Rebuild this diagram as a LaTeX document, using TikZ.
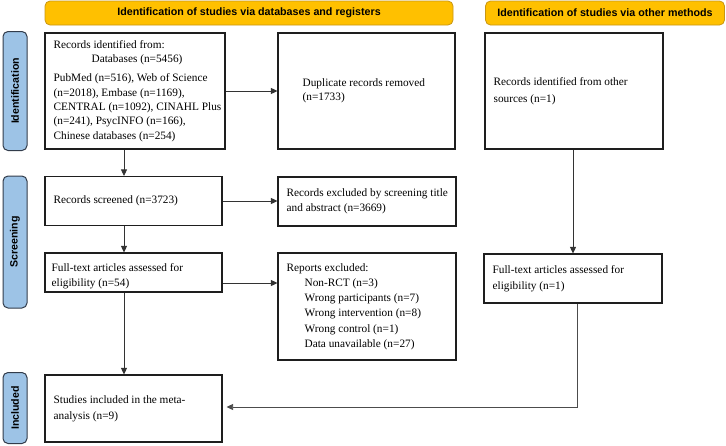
\documentclass[tikz,border=0pt]{standalone}
\usepackage{fontspec}
\setmainfont{Liberation Serif}
\newfontfamily\hdfont{Liberation Sans}
\usetikzlibrary{arrows.meta,calc}
\definecolor{hdfill}{RGB}{255,192,0}
\definecolor{hdline}{RGB}{200,150,20}
\definecolor{sbfill}{RGB}{157,195,230}
\definecolor{sbline}{RGB}{50,60,75}
\definecolor{boxline}{RGB}{30,30,30}
\begin{document}
\begin{tikzpicture}[x=1pt,y=-1pt,
  header/.style={draw=hdline,fill=hdfill,rounded corners=5pt,line width=0.8pt,
    font=\hdfont\bfseries\fontsize{10.7}{12}\selectfont,inner sep=0pt},
  sidebar/.style={draw=sbline,fill=sbfill,rounded corners=5pt,line width=1pt,inner sep=0pt},
  sbtext/.style={rotate=90,font=\hdfont\bfseries\fontsize{10.6}{12}\selectfont},
  flowbox/.style={draw=boxline,line width=1.1pt,inner sep=0pt},
  boxtext/.style={align=left,anchor=west,inner sep=0pt,
    font=\fontsize{11.3}{#1}\selectfont},
  boxtext/.default=14.3,
  arr/.style={draw=black!80,line width=0.8pt,-{Triangle[length=6.5pt,width=6pt]}},
  ln/.style={draw=black!70,line width=0.8pt}]
\useasboundingbox (0,0) rectangle (726,445);
% headers
\node[header,minimum width=408,minimum height=24] (h1) at (249,13) {Identification of studies via databases and registers};
\node[header,minimum width=239,minimum height=24] (h2) at (605,13) {Identification of studies via other methods};
% side bars
\node[sidebar,minimum width=24,minimum height=119] (s1) at (15,91) {};
\node[sbtext] (t1) at (s1.center) {Identification};
\node[sidebar,minimum width=24,minimum height=132] (s2) at (15,242) {};
\node[sbtext] (t2) at (s2.center) {Screening};
\node[sidebar,minimum width=24,minimum height=71] (s3) at (15,408) {};
\node[sbtext] (t3) at (s3.center) {Included};
% boxes
\node[flowbox,minimum width=180,minimum height=116] (A) at (135,91) {};
\node[boxtext] (At) at ([xshift=9]A.west) {Records identified from:\\
\hspace*{38pt}Databases (n=5456)\\[5pt]
PubMed (n=516), Web of Science\\(n=2018), Embase (n=1169),\\CENTRAL (n=1092), CINAHL Plus\\(n=241), PsycINFO (n=166),\\Chinese databases (n=254)};
\node[flowbox,minimum width=177,minimum height=116] (B) at (366.5,91) {};
\node[boxtext=14] (Bt) at ([xshift=25]B.west) {Duplicate records removed\\(n=1733)};
\node[flowbox,minimum width=178,minimum height=116] (C) at (574,91) {};
\node[boxtext=17] (Ct) at ([xshift=9]C.west) {Records identified from other\\sources (n=1)};
\node[flowbox,minimum width=177,minimum height=49] (D) at (133.5,201) {};
\node[boxtext] (Dt) at ([xshift=9]D.west) {Records screened (n=3723)};
\node[flowbox,minimum width=178,minimum height=49] (E) at (367,201.5) {};
\node[boxtext=14.7] (Et) at ([xshift=9]E.west) {Records excluded by screening title\\and abstract (n=3669)};
\node[flowbox,minimum width=177,minimum height=39] (F) at (133.5,272.5) {};
\node[boxtext=15] (Ft) at ([xshift=7,yshift=-4]F.west) {Full-text articles assessed for\\eligibility (n=54)};
\node[flowbox,minimum width=178,minimum height=107] (G) at (367,306.5) {};
\node[boxtext=15.2] (Gt) at ([xshift=9]G.west) {Reports excluded:\\
\hspace*{18pt}Non-RCT (n=3)\\
\hspace*{18pt}Wrong participants (n=7)\\
\hspace*{18pt}Wrong intervention (n=8)\\
\hspace*{18pt}Wrong control (n=1)\\
\hspace*{18pt}Data unavailable (n=27)};
\node[flowbox,minimum width=178,minimum height=49] (H) at (573,278.5) {};
\node[boxtext=16] (Ht) at ([xshift=9]H.west) {Full-text articles assessed for\\eligibility (n=1)};
\node[flowbox,minimum width=177,minimum height=67] (I) at (133.5,408.5) {};
\node[boxtext=15.7] (It) at ([xshift=9]I.west) {Studies included in the meta-\\analysis (n=9)};
% arrows
\draw[arr] (A.east) -- (B.west);
\draw[arr] ([xshift=-11]A.south) -- ([xshift=-9.5]D.north);
\draw[arr] (D.east) -- (E.west |- D.east);
\draw[arr] ([xshift=-9.5]D.south) -- ([xshift=-9.5]F.north);
\draw[arr] ($(F.east)+(0,10.5)$) -- ($(G.west |- F.east)+(0,10.5)$);
\draw[arr] ([xshift=-9.5]F.south) -- ([xshift=-9.5]I.north);
\draw[arr] ([xshift=-1]C.south) -- ([xshift=-1]C.south |- H.north);
\draw[ln,-{Triangle[length=6.5pt,width=6pt]}] ([xshift=4]H.south) |- ([xshift=4,yshift=1.5]I.east);
\end{tikzpicture}
\end{document}
